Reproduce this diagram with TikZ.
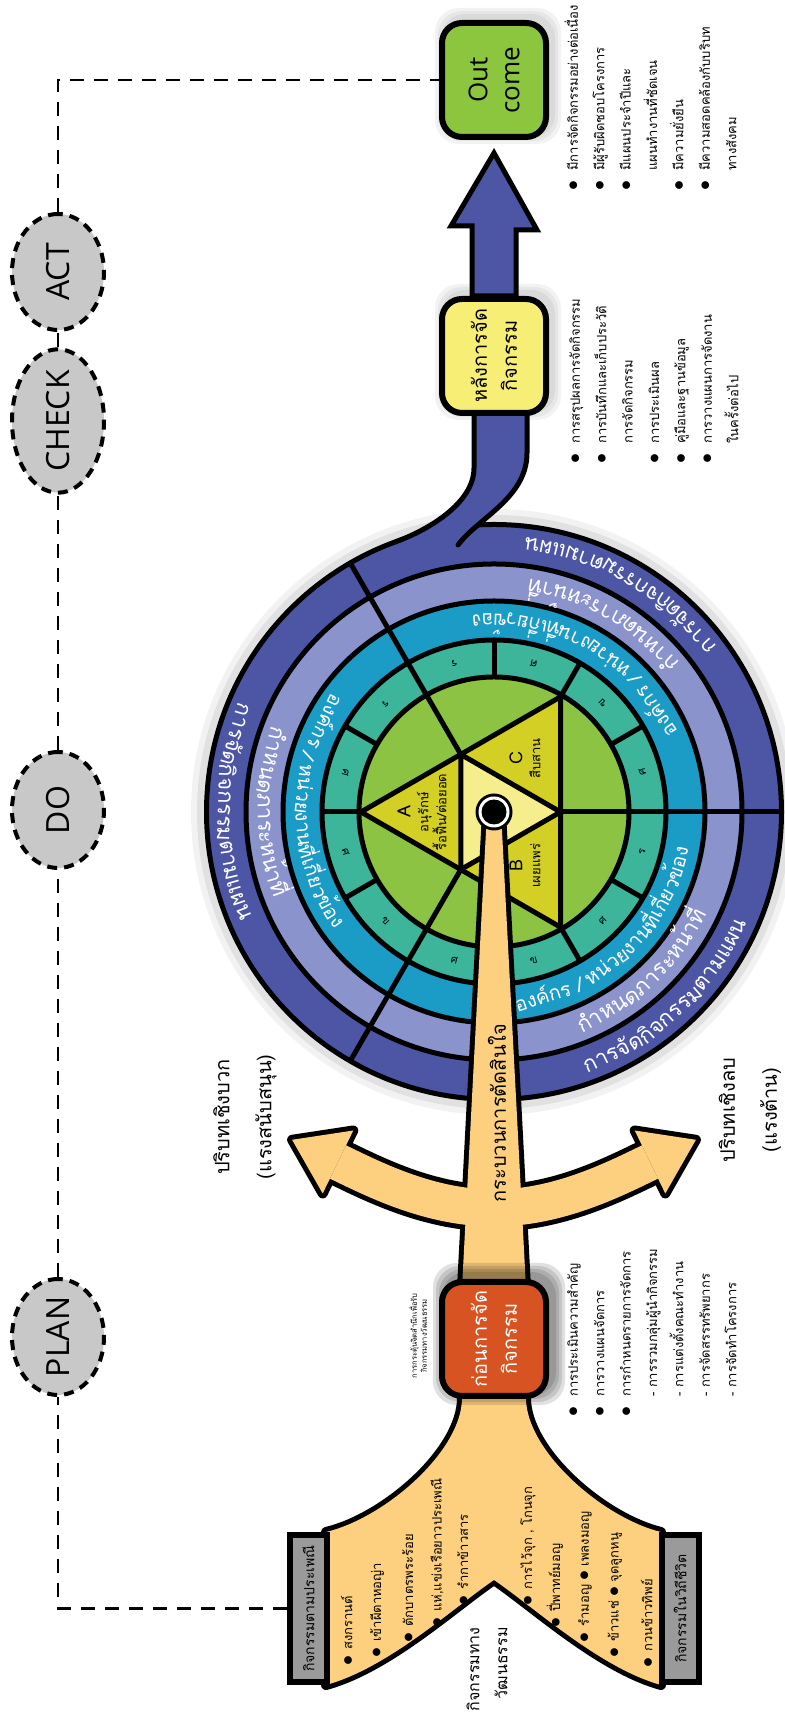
\documentclass[tikz,border=0pt]{standalone}
\usepackage{fontspec}
\setmainfont{Loma}[Script=Thai]
\newfontfamily\latinfont{Open Sans}
\usetikzlibrary{arrows.meta,backgrounds,positioning,shapes.geometric,decorations.text}

\definecolor{ringdark}{HTML}{4C56A4}
\definecolor{ringlav}{HTML}{8B93CC}
\definecolor{ringteal}{HTML}{1B9CC6}
\definecolor{ringsea}{HTML}{3CB59B}
\definecolor{discgreen}{HTML}{8CC342}
\definecolor{triyellow}{HTML}{D3CF24}
\definecolor{trilight}{HTML}{F6EE8C}
\definecolor{fanorange}{HTML}{FDD07F}
\definecolor{boxorange}{HTML}{D75422}
\definecolor{boxyellow}{HTML}{F6EE75}
\definecolor{boxgreen}{HTML}{8CC63F}
\definecolor{pdcagray}{HTML}{C8C8C8}
\definecolor{taggray}{HTML}{9A9A9A}

\newcommand{\dotmark}{\raisebox{-0.3pt}{\fontsize{10}{10}\selectfont$\bullet$}}

\begin{document}
\begin{tikzpicture}[
  x=0.5pt, y=0.5pt, rotate=90, transform shape,
  pdca/.style={draw, ellipse, dashed, line width=2pt, dash pattern=on 5pt off 3.5pt, fill=pdcagray, minimum width=58pt, minimum height=46pt, inner sep=0pt, font=\latinfont\fontsize{16}{18}\selectfont},
  stagebox/.style={draw, line width=3pt, rounded corners=10pt, minimum width=57pt, minimum height=52pt, align=center, inner sep=1pt, font=\fontsize{10}{15}\selectfont},
  tagbox/.style={draw, line width=3pt, fill=taggray, minimum width=73.5pt, minimum height=18.5pt, inner sep=0pt, font=\fontsize{7}{9}\selectfont},
  listbox/.style={anchor=north west, inner sep=0pt, font=\fontsize{6.5}{13.2}\selectfont},
  fanitem/.style={anchor=west, inner sep=0pt, font=\fontsize{6.5}{8}\selectfont},
  ctxlabel/.style={align=center, inner sep=0pt, font=\fontsize{10}{21}\selectfont},
  trilabel/.style={align=center, inner sep=0pt, font=\fontsize{6.5}{9}\selectfont},
  sealabel/.style={inner sep=0pt, font=\fontsize{5.5}{6}\selectfont},
  pdcaline/.style={dashed, line width=1.3pt, dash pattern=on 7pt off 5pt},
  ringline/.style={line width=2.5pt},
  edgeline/.style={line width=2.5pt, line cap=round},
  fanedge/.style={draw=black, fill=black, line width=5pt, line join=round},
  fanfill/.style={fill=fanorange},
  armedge/.style={draw=black, line width=23.5pt},
  armfill/.style={draw=fanorange, line width=18.5pt},
  boxshade/.style={fill=black, rounded corners=12pt}
]
\useasboundingbox (0,-785) rectangle (1713,0);

% PDCA cycle
\node[pdca] (plan)  at (376,-58)  {PLAN};
\node[pdca] (do)    at (903,-58)  {DO};
\node[pdca] (check) at (1292,-58) {CHECK};
\node[pdca] (act)   at (1441,-58) {ACT};

% stages
\node[stagebox, fill=boxorange, text=white] (beforebox) at (374,-494)  {ก่อนการจัด\\กิจกรรม};
\node[stagebox, fill=boxyellow]             (afterbox)  at (1357,-494) {หลังการจัด\\กิจกรรม};
\node[stagebox, fill=boxgreen, font=\latinfont\fontsize{13}{16}\selectfont] (outcome) at (1633,-494) {Out\\come};

\node[tagbox] (tagtrad) at (104.5,-308.5) {กิจกรรมตามประเพณี};
\node[tagbox] (taglife) at (104.5,-680)   {กิจกรรมในวิถีชีวิต};

\node[align=center, inner sep=0pt, font=\fontsize{3.8}{5}\selectfont] (hint) at (377,-418)
  {การกระตุ้นจิตสำนึกเพื่อรับ\\กิจกรรมทางวัฒนธรรม};
\node[anchor=east, align=right, inner sep=0pt, font=\fontsize{8}{14}\selectfont] (culture) at (86,-487)
  {กิจกรรมทาง\\วัฒนธรรม};

% activity items inside the fan
\foreach \x/\y/\t [count=\i] in {47/-347/สงกรานต์, 55/-377/เข้าผีตาหอญ่า, 70/-408/ตักบาตรพระร้อย, 85/-437/{แห่,แข่งเรือยาวประเพณี}, 107/-463/รำกาข้าวสาร}
  \node[fanitem] (trad\i) at (\x,\y) {\dotmark\hspace{3pt}\t};
\foreach \x/\y/\t [count=\i] in {107/-528/{การไว้จุก , โกนจุก}, 85/-555/ปี่พาทย์มอญ, 70/-585/{รำมอญ \dotmark\ เพลงมอญ}, 55/-615/{ข้าวแช่ \dotmark\ จุดลูกหนู}, 45/-647/กวนข้าวทิพย์}
  \node[fanitem] (life\i) at (\x,\y) {\dotmark\hspace{3pt}\t};

% lists
\node[listbox] (beforelist) at (296,-559) {\begin{tabular}{@{}l@{\hspace{5pt}}l@{}}
  \dotmark & การประเมินความสำคัญ\\
  \dotmark & การวางแผนจัดการ\\
  \dotmark & การกำหนดรายการจัดการ\\
           & - การรวมกลุ่มผู้นำกิจกรรม\\
           & - การแต่งตั้งคณะทำงาน\\
           & - การจัดสรรทรัพยากร\\
           & - การจัดทำโครงการ
  \end{tabular}};
\node[listbox] (afterlist) at (1249,-561) {\begin{tabular}{@{}l@{\hspace{5pt}}l@{}}
  \dotmark & การสรุปผลการจัดกิจกรรม\\
  \dotmark & การบันทึกและเก็บประวัติ\\
           & การจัดกิจกรรม\\
  \dotmark & การประเมินผล\\
  \dotmark & คู่มือและฐานข้อมูล\\
  \dotmark & การวางแผนการจัดงาน\\
           & ในครั้งต่อไป
  \end{tabular}};
\node[listbox] (outlist) at (1522,-559) {\begin{tabular}{@{}l@{\hspace{5pt}}l@{}}
  \dotmark & มีการจัดกิจกรรมอย่างต่อเนื่อง\\
  \dotmark & มีผู้รับผิดชอบโครงการ\\
  \dotmark & มีแผนประจำปีและ\\
           & แผนทำงานที่ชัดเจน\\
  \dotmark & มีความยั่งยืน\\
  \dotmark & มีความสอดคล้องกับบริบท\\
           & ทางสังคม
  \end{tabular}};

% context labels
\node[ctxlabel] (poslabel) at (596,-245) {ปริบทเชิงบวก\\(แรงสนับสนุน)};
\node[ctxlabel] (neglabel) at (603,-750) {ปริบทเชิงลบ\\(แรงต้าน)};
\node[inner sep=0pt, font=\fontsize{10}{12}\selectfont] (decision) at (600,-497) {กระบวนการตัดสินใจ};

% wheel labels
\coordinate (hub) at (901,-494);
\node[trilabel] (tria) at ([shift={(90:72)}]hub)  {{\fontsize{9}{9}\selectfont A}\\อนุรักษ์\\รื้อฟื้น/ต่อยอด};
\node[trilabel] (trib) at ([shift={(210:62)}]hub) {{\fontsize{9}{9}\selectfont B}\\เผยแพร่};
\node[trilabel] (tric) at ([shift={(330:62)}]hub) {{\fontsize{9}{9}\selectfont C}\\สืบสาน};
\foreach \a/\l in {15/ร,45/ร,75/ศ,105/ศ,135/ข,165/ศ,195/ข,225/ศ,255/ร,285/ศ,315/ข,345/ศ}
  \node[sealabel, rotate=\a+90] (seg\a) at ([shift={(\a:153.5)}]hub) {\l};

\begin{pgfonlayer}{background}
  % PDCA connector
  \draw[pdcaline] (tagtrad.north) |- (plan.west) (plan.east) -- (do.west) (do.east) -- (check.west)
    (check.east) -- (act.west) (act.east) -| (outcome.north);

  % soft shadows of the stage boxes
  \foreach \g in {2,5,8} {
    \fill[boxshade, opacity=0.05] ([shift={(4-\g,-4-\g)}]afterbox.south west) rectangle ([shift={(4+\g,-4+\g)}]afterbox.north east);
    \fill[boxshade, opacity=0.05] ([shift={(4-\g,-4-\g)}]outcome.south west) rectangle ([shift={(4+\g,-4+\g)}]outcome.north east);
  }

  % arrow to outcome
  \draw[line width=2.5pt, fill=ringdark, line join=miter] ([yshift=11pt]afterbox.east) -- ++(70,0) -- ++(0,21)
    -- ([xshift=-6.5pt]outcome.west) -- ++(-77,-43) -- ++(0,21) -- ([yshift=-11pt]afterbox.east) -- cycle;

  % wheel
  \begin{scope}[shift={(hub)}]
    \fill[black, opacity=0.05] (0,0) circle (303);
    \fill[black, opacity=0.07] (0,0) circle (297);
    \draw[ringline, fill=ringdark] (0,0) circle (287.5);
    \fill[ringdark] (20:287.5) .. controls (282.2,65.4) and (309,20) .. (344,20) -- (410,20) -- (410,-33) -- (359,-33)
      .. controls (314,-33) and (294,16) .. (267,36) -- (265,94) -- cycle;
    \draw[edgeline] (20:287.5) .. controls (282.2,65.4) and (309,20) .. (344,20) -- (410,20);
    \draw[edgeline] (410,-33) -- (359,-33) .. controls (314,-33) and (294,16) .. (267,36);
    \draw[ringline, fill=ringlav]   (0,0) circle (248);
    \draw[ringline, fill=ringteal]  (0,0) circle (211);
    \draw[ringline, fill=ringsea]   (0,0) circle (172);
    \draw[ringline, fill=discgreen] (0,0) circle (135);
    \foreach \a in {30,150,270}
      \draw[ringline] (\a:66.5) -- (\a:287.5);
    \foreach \a in {0,60,90,120,180,210,240,300,330}
      \draw[ringline] (\a:135) -- (\a:172);
    \draw[ringline, fill=triyellow, line join=round] (90:133) -- (210:133) -- (330:133) -- cycle;
    \draw[ringline, fill=trilight, line join=round] (30:66.5) -- (150:66.5) -- (270:66.5) -- cycle;

    \foreach \s in {90,223,330} {
      \path[decorate, decoration={text along path, text align=center, text color=white,
        text={|\fontsize{11}{11}\selectfont|{การจัด}{กิจกรรม}{ตามแผน}}}]
        (\s-75:276) arc[start angle=\s-75, end angle=\s+75, radius=276];
      \path[decorate, decoration={text along path, text align=center, text color=white,
        text={|\fontsize{11}{11}\selectfont|{กำหนด}{ภาระ}{หน้าที่}}}]
        (\s-75:236) arc[start angle=\s-75, end angle=\s+75, radius=236];
      \path[decorate, decoration={text along path, text align=center, text color=white,
        text={|\fontsize{10}{10}\selectfont|{องค์กร~/~}{หน่วย}{งาน}{ที่เกี่ยว}{ข้อง}}}]
        (\s-80:198) arc[start angle=\s-80, end angle=\s+80, radius=198];
    }
  \end{scope}

  % fan, decision stem and context arrows
  \foreach \shapestyle/\armstyle in {fanedge/armedge, fanfill/armfill} {
    \path[\shapestyle] (340,-462) -- (315,-462) .. controls (262,-462) and (195,-385) .. (181,-326) -- (28,-326)
      .. controls (45,-388) and (105,-453) .. (133,-494) .. controls (105,-535) and (45,-600) .. (28,-661)
      -- (181,-661) .. controls (195,-603) and (262,-526) .. (315,-526) -- (340,-526) -- cycle;
    \path[\shapestyle] (425,-462) -- (901,-487) -- (901,-501) -- (425,-526) -- cycle;
    \path[\armstyle] (551,-338) .. controls (533.6,-374) and (505,-430) .. (505,-494)
      .. controls (505,-558) and (533.6,-614) .. (551,-650);
    \path[\shapestyle] (582.5,-353.3) -- (573.2,-292.1) -- (519.5,-322.7) -- cycle;
    \path[\shapestyle] (582.5,-634.7) -- (573.2,-695.9) -- (519.5,-665.3) -- cycle;
  }

  % shadow of the planning box over the fan
  \foreach \g in {2,5,8,11}
    \fill[boxshade, opacity=0.12] ([shift={(5-\g,-5-\g)}]beforebox.south west) rectangle ([shift={(5+\g,-5+\g)}]beforebox.north east);

  \fill[black] (hub) circle (18.5);
  \fill[white] (hub) circle (15.5);
  \fill[black] (hub) circle (12.5);
\end{pgfonlayer}
\end{tikzpicture}
\end{document}
